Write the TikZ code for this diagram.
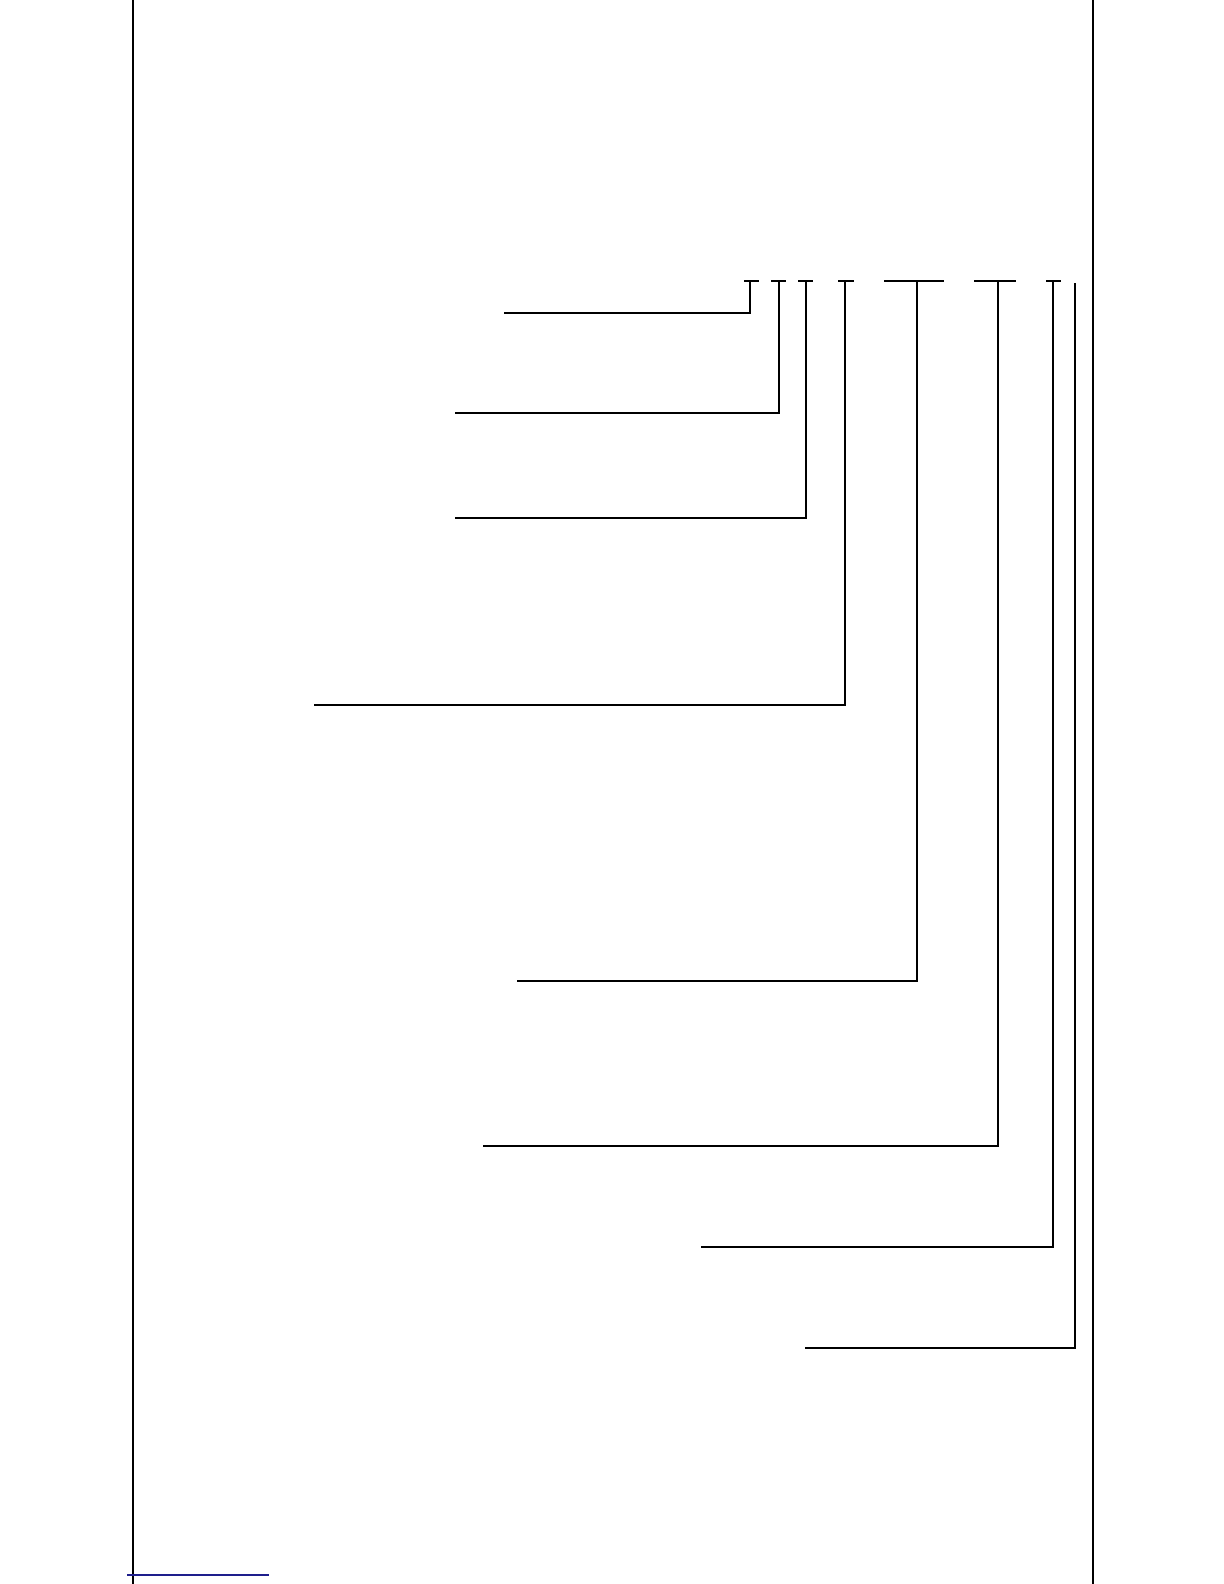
\documentclass[tikz,border=0pt]{standalone}
\begin{document}
\begin{tikzpicture}[x=0.5pt,y=-0.5pt,
  borderln/.style={line width=1.3pt,black},
  thickln/.style={line width=1.2pt,black},
  thinln/.style={line width=0.6pt,black},
  dashln/.style={line width=1.3pt,black},
  bluelink/.style={line width=0.9pt,color={rgb,255:red,30;green,30;blue,140}}]
\useasboundingbox (0,0) rectangle (1224,1584);
% page borders
\coordinate (lt) at (133,0); \coordinate (lb) at (133,1584);
\coordinate (rt) at (1093,0); \coordinate (rb) at (1093,1584);
\draw[borderln] (lt) -- (lb);
\draw[borderln] (rt) -- (rb);
% blue underline at bottom
\coordinate (bl) at (127,1575); \coordinate (br) at (269,1575);
\draw[bluelink] (bl) -- (br);
% top dashes
\foreach \n/\a/\b in {1/744/759, 2/771/786, 3/798/813, 4/838/854, 5/884/944, 6/974/1016, 7/1046/1061}{
  \coordinate (d\n a) at (\a,281);
  \coordinate (d\n b) at (\b,281);
  \draw[dashln] (d\n a) -- (d\n b);
}
% callout connectors: top point, left end
\coordinate (t1) at (750,281);  \coordinate (e1) at (504,313);
\coordinate (t2) at (779,281);  \coordinate (e2) at (455,413);
\coordinate (t3) at (806,281);  \coordinate (e3) at (455,518);
\coordinate (t4) at (845,281);  \coordinate (e4) at (314,705);
\coordinate (t5) at (917,281);  \coordinate (e5) at (517,981);
\coordinate (t6) at (998,281);  \coordinate (e6) at (483,1146);
\coordinate (t7) at (1053,281); \coordinate (e7) at (701,1247);
\coordinate (t8) at (1075,283); \coordinate (e8) at (805,1348);
\draw[thickln] (t1) |- (e1);
\draw[thickln] (t2) |- (e2);
\draw[thinln]  (t3) |- (e3);
\draw[thickln] (t4) |- (e4);
\draw[thinln]  (t5) |- (e5);
\draw[thinln]  (t6) |- (e6);
\draw[thickln] (t7) |- (e7);
\draw[thinln]  (t8) |- (e8);
\end{tikzpicture}
\end{document}
